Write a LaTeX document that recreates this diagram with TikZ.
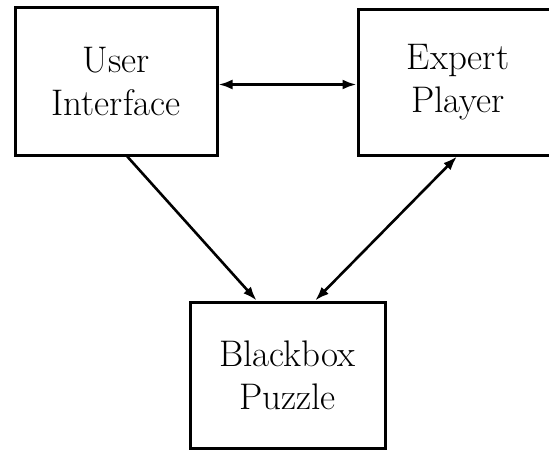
\documentclass[tikz,border=0pt]{standalone}
\usepackage{fontspec}
\usetikzlibrary{arrows.meta,calc}
\begin{document}
\begin{tikzpicture}[x=1pt,y=-1pt,
  box/.style={draw, line width=3pt, rectangle, align=center,
    font=\fontsize{37}{43}\selectfont},
  tip/.tip={Latex[length=14pt,width=10pt]},
  link/.style={line width=2.6pt, -tip},
  biglink/.style={line width=2.6pt, tip-tip}]
  \useasboundingbox (0,0) rectangle (549,452);
  % the three components
  \node[box, minimum width=202pt, minimum height=147pt] (ui) at (116,81.5) {User\\Interface};
  \node[box, minimum width=200pt, minimum height=145pt] (ep) at (458,82.5) {Expert\\Player};
  \node[box, minimum width=195pt, minimum height=146pt] (bb) at (287.5,375) {Blackbox\\Puzzle};
  % attachment points on the box borders
  \coordinate (uiR) at ($(ui.north east)!0.52!(ui.south east)$);
  \coordinate (epL) at (uiR -| ep.west);
  \coordinate (uiB) at ($(ui.south west)!0.555!(ui.south east)$);
  \coordinate (bbL) at ($(bb.north west)!0.344!(bb.north east)$);
  \coordinate (bbR) at ($(bb.north west)!0.64!(bb.north east)$);
  \coordinate (epB) at ($(ep.south west)!0.495!(ep.south east)$);
  % connectors
  \draw[biglink] (uiR) -- (epL);
  \draw[link] (uiB) -- (bbL);
  \draw[biglink] (epB) -- (bbR);
\end{tikzpicture}
\end{document}
